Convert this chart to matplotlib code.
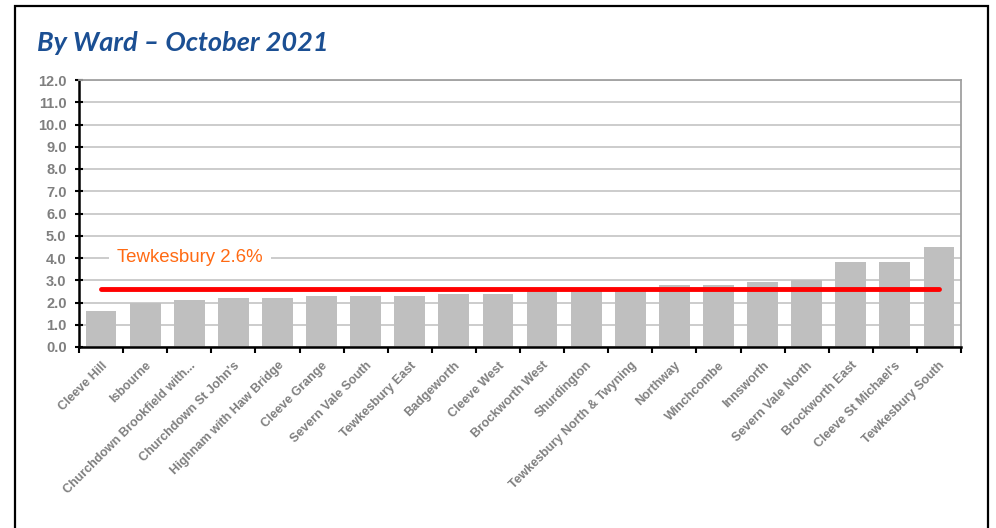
import matplotlib.pyplot as plt
import numpy as np
from matplotlib.patches import Rectangle

# --- ward rates, October 2021 ---
wards = [
    "Cleeve Hill", "Isbourne", "Churchdown Brookfield with...",
    "Churchdown St John's", "Highnam with Haw Bridge", "Cleeve Grange",
    "Severn Vale South", "Tewkesbury East", "Badgeworth", "Cleeve West",
    "Brockworth West", "Shurdington", "Tewkesbury North & Twyning",
    "Northway", "Winchcombe", "Innsworth", "Severn Vale North",
    "Brockworth East", "Cleeve St Michael's", "Tewkesbury South",
]
rates = [1.6, 2.0, 2.1, 2.2, 2.2, 2.3, 2.3, 2.3, 2.4, 2.4,
         2.6, 2.6, 2.6, 2.8, 2.8, 2.9, 3.0, 3.8, 3.8, 4.5]
district_rate = 2.6
district_label = "Tewkesbury 2.6%"

W, H = 996, 528
fig = plt.figure(figsize=(W / 100, H / 100), dpi=100)

# outer frame (open at the bottom)
fig.add_artist(Rectangle((15 / W, -0.05), (988 - 15) / W, 1.05 - 6 / H,
                         transform=fig.transFigure, fill=False,
                         edgecolor="black", linewidth=1.6))

fig.text(37 / W, 1 - 43 / H, "By Ward \u2013 October 2021", family="Lato",
         style="italic", weight="bold", fontsize=19.5, color="#1B4F93",
         va="center", ha="left")

ax = fig.add_axes([79 / W, (H - 347) / H, (961 - 79) / W, (347 - 80) / H])

x = np.arange(len(wards))
ax.bar(x, rates, width=0.7, color="#BFBFBF", zorder=2)
ax.plot([x[0], x[-1]], [district_rate, district_rate], color="#FF0000",
        linewidth=3.5, solid_capstyle="round", zorder=3)
ax.text(0.36, 4.0, district_label, family="Liberation Sans", fontsize=13.4,
        color="#FF6A13", va="center", ha="left", zorder=4,
        bbox=dict(facecolor="white", edgecolor="none", pad=6))

ax.set_xlim(-0.5, len(wards) - 0.5)
ax.set_ylim(0, 12)
ax.set_yticks(np.arange(0, 13, 1))
ax.set_yticklabels([f"{v:.1f}" for v in range(13)])
ax.yaxis.grid(True, color="#C8C8C8", linewidth=1.3, zorder=1)

ax.set_xticks(x)
ax.set_xticklabels(wards, rotation=45, ha="right", rotation_mode="anchor",
                   family="Liberation Sans", weight="bold", fontsize=9,
                   color="#7F7F7F")
ax.set_xticks(np.arange(-0.5, len(wards)), minor=True)
ax.tick_params(axis="x", which="major", length=0, pad=9)
ax.tick_params(axis="x", which="minor", length=4, width=1.5, color="black",
               direction="out")
ax.tick_params(axis="y", length=6, width=1.5, color="black",
               direction="inout", pad=6)
for lab in ax.get_yticklabels():
    lab.set_family("Liberation Sans")
    lab.set_weight("bold")
    lab.set_fontsize(10.5)
    lab.set_color("#7F7F7F")

for side in ("left", "bottom"):
    ax.spines[side].set_linewidth(1.8)
    ax.spines[side].set_color("black")
for side in ("top", "right"):
    ax.spines[side].set_linewidth(1.3)
    ax.spines[side].set_color("#A0A0A0")

fig.savefig("out.png", dpi=100)
